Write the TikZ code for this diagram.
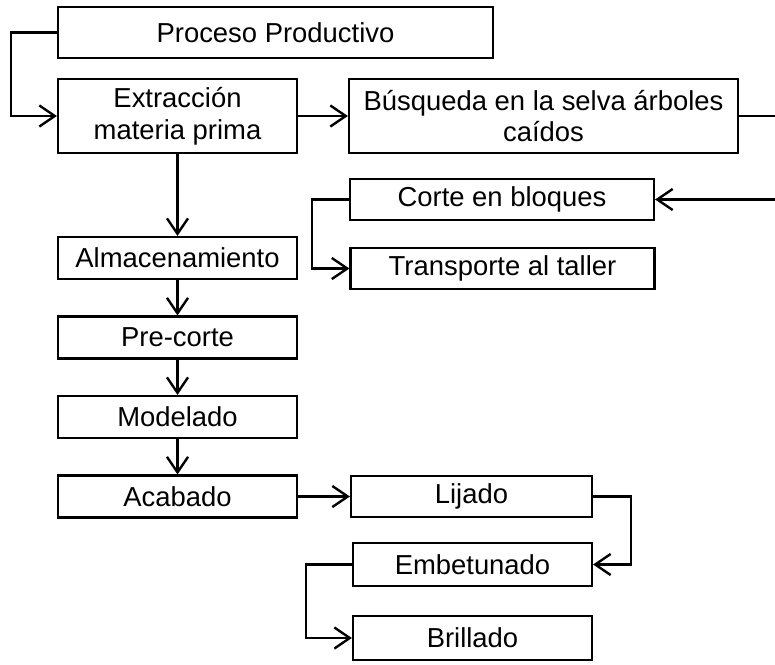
\documentclass[tikz,border=0pt]{standalone}
\usepackage{fontspec}
\setmainfont{Liberation Sans}
\usetikzlibrary{positioning,arrows.meta}

\begin{document}
\begin{tikzpicture}[
		x=0.025cm,y=-0.025cm,
		caja/.style={draw,line width=1.5pt,inner sep=0pt,align=center,
			font=\fontsize{19.5}{22.5}\selectfont},
		flecha/.style={line width=1.7pt,-{Straight Barb[length=11pt,width=15pt,line width=1.7pt]}}
		]
		\clip (0,0) rectangle (775,664);
		% columna principal
		\node[caja,minimum width=10.875cm,minimum height=1.275cm] (proc) at (275.5,32.5) {Proceso Productivo};
		\node[caja,minimum width=5.975cm,minimum height=1.85cm] (extr) at (177.5,116) {Extracción\\materia prima};
		\node[caja,minimum width=9.725cm,minimum height=1.85cm] (busq) at (543.5,116) {Búsqueda en la selva árboles\\caídos};
		\node[caja,minimum width=7.6cm,minimum height=1.025cm] (corte) at (502,199.5) {Corte en bloques};
		\node[caja,minimum width=7.6cm,minimum height=1.025cm] (transp) at (502.5,268.5) {Transporte al taller};
		\node[caja,minimum width=5.975cm,minimum height=1.05cm] (alm) at (177.5,258) {Almacenamiento};
		\node[caja,minimum width=5.975cm,minimum height=1.05cm] (prec) at (177.5,337.5) {Pre-corte};
		\node[caja,minimum width=5.975cm,minimum height=1.05cm] (mod) at (177.5,417) {Modelado};
		\node[caja,minimum width=5.975cm,minimum height=1.05cm] (acab) at (177.5,496.5) {Acabado};
		% acabado
		\node[caja,minimum width=6.025cm,minimum height=1.025cm] (lij) at (471.5,496.5) {Lijado};
		\node[caja,minimum width=5.975cm,minimum height=1.075cm] (emb) at (472.5,564.5) {Embetunado};
		\node[caja,minimum width=5.975cm,minimum height=1.1cm] (bri) at (472.5,638) {Brillado};
		
		\draw[flecha] (proc.west) -- ++(-46,0) |- (extr.west);
		\draw[flecha] (extr) -- (busq);
		\draw[flecha] (busq.east) -- ++(50,0) |- (corte.east);
		\draw[flecha] (corte.west) -- ++(-37,0) |- (transp.west);
		\draw[flecha] (extr) -- (alm);
		\draw[flecha] (alm) -- (prec);
		\draw[flecha] (prec) -- (mod);
		\draw[flecha] (mod) -- (acab);
		\draw[flecha] (acab) -- (lij);
		\draw[flecha] (lij.east) -- ++(38,0) |- (emb.east);
		\draw[flecha] (emb.west) -- ++(-46,0) |- (bri.west);
	\end{tikzpicture}
\end{document}
